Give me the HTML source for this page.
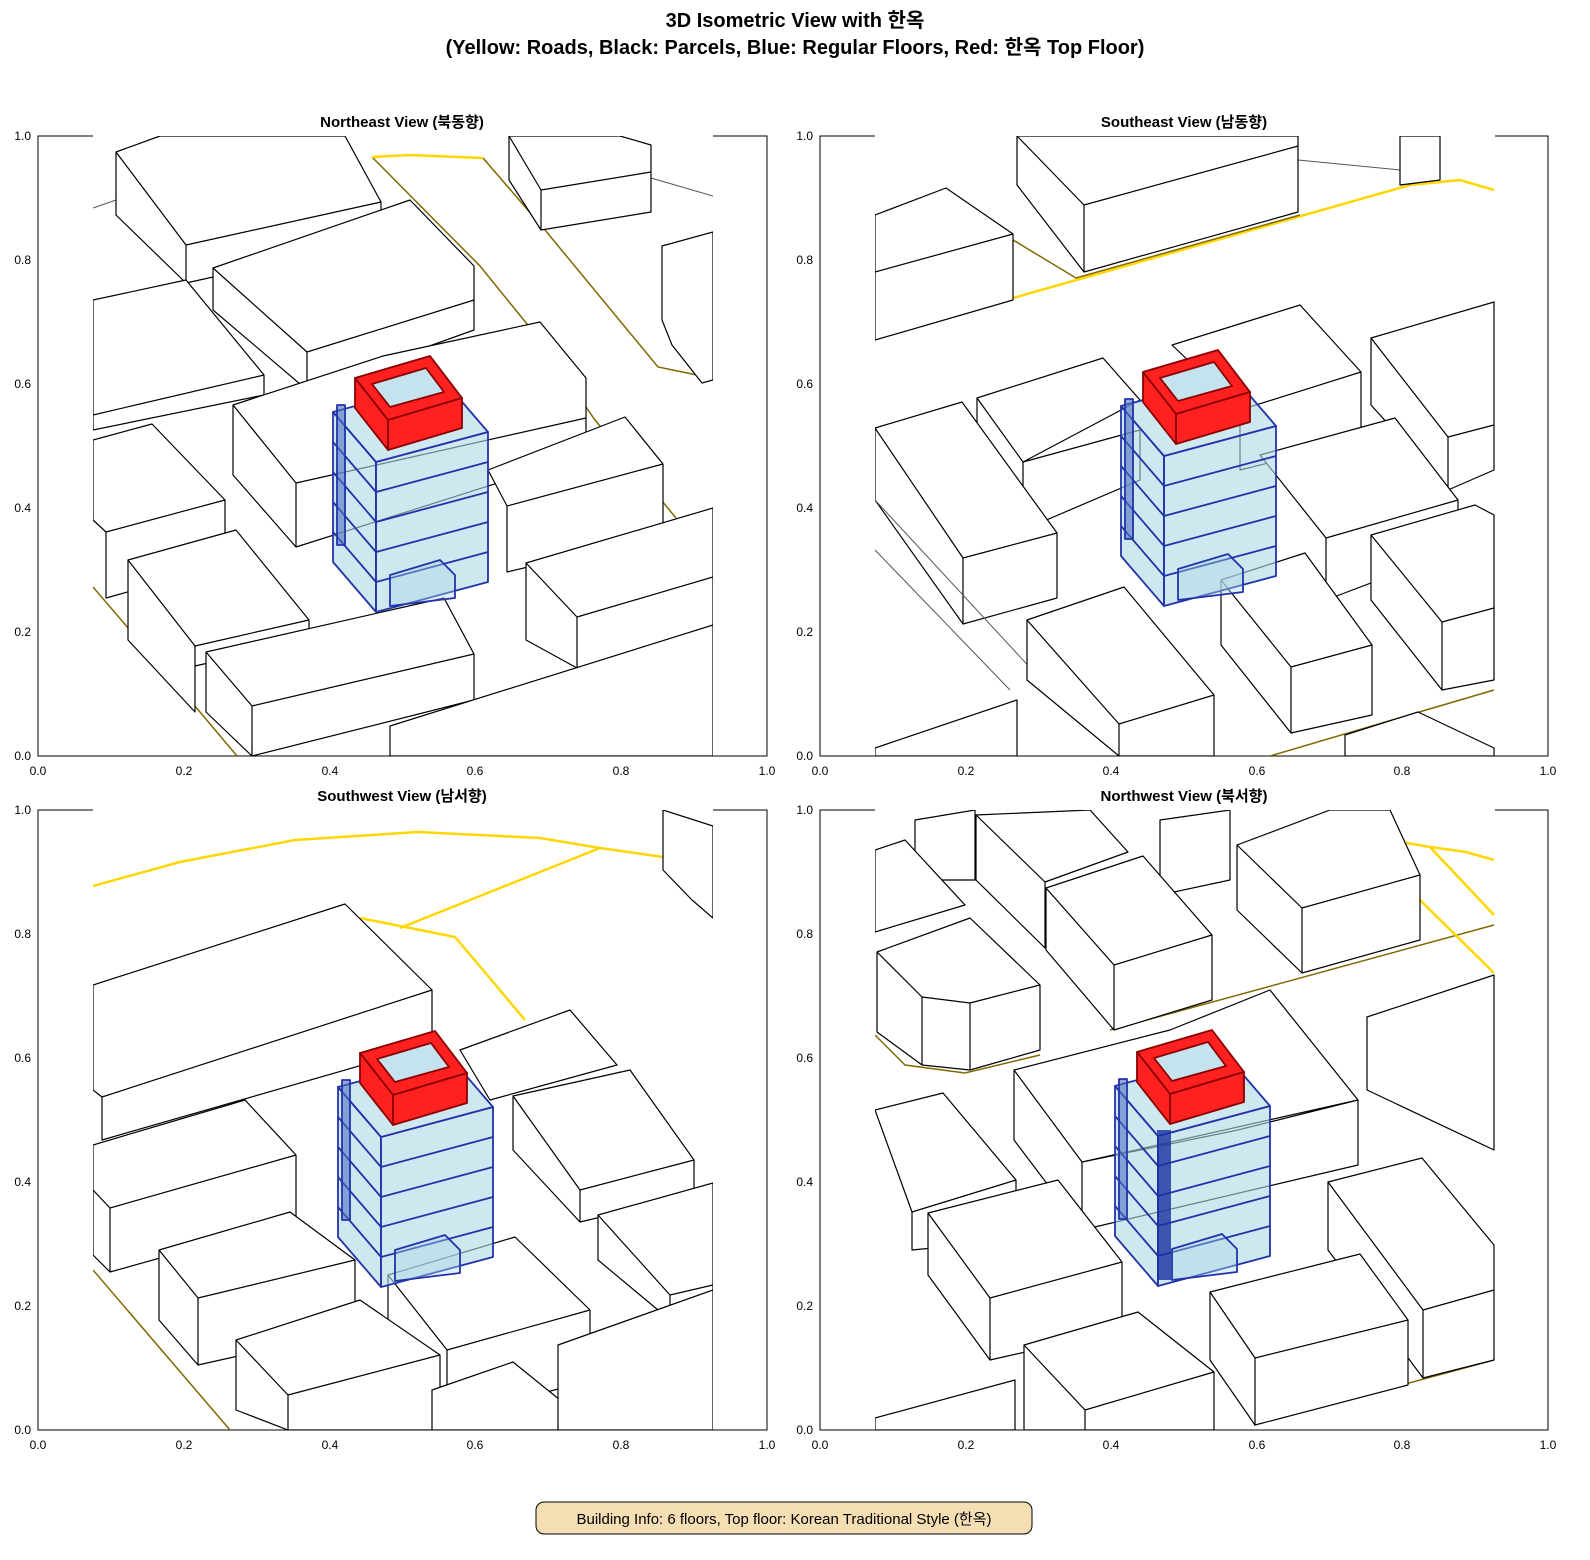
<!DOCTYPE html>
<html><head><meta charset="utf-8"><style>
html,body{margin:0;padding:0;background:#fff;overflow:hidden;width:1590px;height:1560px;}
svg{display:block;font-family:"Liberation Sans","Noto Sans CJK KR",sans-serif;}
.b{fill:#fff;stroke:#000;stroke-width:1.2;stroke-linejoin:round}
.y{fill:none;stroke:#ffd700;stroke-width:2.5}
.yd{fill:none;stroke:#806800;stroke-width:1.5}
.g{fill:none;stroke:#555;stroke-width:1}
.tk{font-size:12px;fill:#000}
</style></head><body>
<svg width="1590" height="1560" viewBox="0 0 1590 1560" xmlns="http://www.w3.org/2000/svg">
<defs>
<g id="bb">
 <g fill="#add8e6" fill-opacity="0.6" stroke="#2233aa" stroke-width="1.8" stroke-linejoin="round">
  <polygon points="333,412 376,462 376,612 333,562"/>
  <polygon points="376,462 488,432 488,582 376,612"/>
  <polygon points="376,462 488,432 445,382 333,412"/>
  <polyline fill="none" points="333,442 376,492 488,462"/>
  <polyline fill="none" points="333,472 376,522 488,492"/>
  <polyline fill="none" points="333,502 376,552 488,522"/>
  <polyline fill="none" points="333,532 376,582 488,552"/>
  <polygon points="390,575 440,560 455,575 455,598 390,606" fill-opacity="0.4"/>
  <rect x="337" y="405" width="8" height="140" fill="#5070c0" fill-opacity="0.6"/>
 </g>
 <g stroke="#8b0000" stroke-width="1.8" stroke-linejoin="round">
  <polygon points="355,378 430,356 462,398 388,420" fill="#ff2020"/>
  <polygon points="372,384 426,368 444,392 390,407" fill="#c5e3ee"/>
  <polygon points="388,420 462,398 462,428 388,450" fill="#ff2020"/>
  <polygon points="355,378 388,420 388,450 355,408" fill="#ff2020"/>
 </g>
</g>
<clipPath id="c1"><rect x="93" y="136" width="620" height="620"/></clipPath>
<clipPath id="c2"><rect x="875" y="136" width="620" height="620"/></clipPath>
<clipPath id="c3"><rect x="93" y="810" width="620" height="620"/></clipPath>
<clipPath id="c4"><rect x="875" y="810" width="620" height="620"/></clipPath>
</defs>
<text x="795" y="27" text-anchor="middle" font-size="20" font-weight="bold">3D Isometric View with 한옥</text>
<text x="795" y="54" text-anchor="middle" font-size="20" font-weight="bold">(Yellow: Roads, Black: Parcels, Blue: Regular Floors, Red: 한옥 Top Floor)</text>

<!-- Axes frames -->
<g fill="none" stroke="#000" stroke-width="1">
<rect x="38" y="136" width="729" height="620"/>
<rect x="820" y="136" width="728" height="620"/>
<rect x="38" y="810" width="729" height="620"/>
<rect x="820" y="810" width="728" height="620"/>
</g>
<g fill="#fff">
<rect x="93" y="134" width="620" height="4"/><rect x="875" y="134" width="620" height="4"/>
<rect x="93" y="808" width="620" height="4"/><rect x="875" y="808" width="620" height="4"/>
</g>

<!-- Panel 1 NE -->
<text x="402" y="127" text-anchor="middle" font-size="15" font-weight="bold">Northeast View (북동향)</text>
<g clip-path="url(#c1)">
<polyline class="yd" points="372,157 480,266 540,340 595,420 676,518"/>
<polyline class="yd" points="483,158 545,230 658,367 697,375"/>
<polyline class="y" points="372,157 410,155 483,158"/>
<polyline class="yd" points="93,587 200,712 237,756"/>
<polyline class="g" points="93,208 116,200"/><polyline class="g" points="651,178 713,196"/>
<path class="b" d="M116,152 160,136 345,136 381,202 186,245Z M186,245 381,202 381,240 186,283Z M116,152 186,245 186,283 116,215Z"/>
<path class="b" d="M509,136 620,136 651,145 651,172 541,190Z M541,190 651,172 651,212 541,230Z M509,136 541,190 541,230 509,180Z"/>
<path class="b" d="M662,246 713,232 713,380 702,383 672,345 662,320Z"/>
<path class="b" d="M213,268 410,200 474,266 474,300 307,352Z M307,352 474,300 474,330 307,390Z M213,268 307,352 307,390 213,310Z"/>
<path class="b" d="M93,300 186,280 264,375 93,415Z M93,415 264,375 264,395 93,430Z"/>
<path class="b" d="M233,405 383,356 540,322 586,378 586,418 296,483Z M296,483 586,418 586,455 296,547Z M233,405 296,483 296,547 233,475Z"/>
<path class="b" d="M488,470 625,417 663,464 507,506Z M507,506 663,464 663,535 507,572Z"/>
<path class="b" d="M93,440 152,424 225,500 106,532 93,520Z M106,532 225,500 225,565 106,598Z"/>
<path class="b" d="M128,560 236,530 309,620 195,646Z M195,646 309,620 309,640 195,666Z M128,560 195,646 195,712 128,640Z"/>
<path class="b" d="M206,652 444,598 474,654 252,706Z M252,706 474,654 474,700 252,756Z M206,652 252,706 252,756 206,712Z"/>
<path class="b" d="M526,563 713,508 713,577 577,617Z M577,617 713,577 713,640 577,668Z M526,563 577,617 577,668 526,640Z"/>
<path class="b" d="M390,726 713,625 713,756 390,756Z"/>
<use href="#bb"/>
</g>

<!-- Panel 2 SE -->
<text x="1184" y="127" text-anchor="middle" font-size="15" font-weight="bold">Southeast View (남동향)</text>
<g clip-path="url(#c2)">
<polyline class="y" points="1013,298 1410,185 1460,180 1494,190"/>
<polyline class="yd" points="1013,240 1076,278 1300,215"/>
<polyline class="yd" points="1270,756 1494,690"/>
<polyline class="g" points="1298,160 1400,170 1410,185"/>
<path class="b" d="M1017,136 1298,136 1298,146 1084,205Z M1084,205 1298,146 1298,212 1084,272Z M1017,136 1084,205 1084,272 1017,185Z"/>
<path class="b" d="M1400,136 1440,136 1440,180 1400,185Z"/>
<path class="b" d="M875,215 946,188 1013,234 875,272Z M875,272 1013,234 1013,300 875,340Z"/>
<path class="b" d="M977,398 1103,358 1140,400 1023,462Z M1023,462 1140,430 1140,480 1023,530Z M977,398 1023,462 1023,520 977,455Z"/>
<path class="b" d="M1172,345 1300,305 1361,372 1240,410Z M1240,410 1361,372 1361,440 1240,470Z"/>
<path class="b" d="M1371,338 1494,302 1494,425 1448,437Z M1448,437 1494,425 1494,470 1448,490Z M1371,338 1448,437 1448,490 1371,405Z"/>
<path class="b" d="M875,428 962,402 1057,533 963,558Z M963,558 1057,533 1057,598 963,624Z M875,428 963,558 963,624 875,500Z"/>
<path class="b" d="M1260,455 1395,418 1458,500 1326,538Z M1326,538 1458,500 1458,550 1326,600Z"/>
<path class="b" d="M1371,535 1475,505 1494,515 1494,608 1442,622Z M1442,622 1494,608 1494,680 1442,690Z M1371,535 1442,622 1442,690 1371,600Z"/>
<polyline class="g" points="875,500 1060,700"/><polyline class="g" points="875,550 1010,690"/>
<path class="b" d="M1027,620 1124,587 1214,695 1119,724Z M1119,724 1214,695 1214,756 1119,756Z M1027,620 1119,724 1119,756 1027,680Z"/>
<path class="b" d="M1221,580 1305,553 1372,645 1291,667Z M1291,667 1372,645 1372,715 1291,733Z M1221,580 1291,667 1291,733 1221,645Z"/>
<path class="b" d="M875,748 1017,700 1017,756 875,756Z"/>
<path class="b" d="M1345,735 1418,712 1494,748 1494,756 1345,756Z"/>
<use href="#bb" x="788" y="-6"/>
</g>

<!-- Panel 3 SW -->
<text x="402" y="801" text-anchor="middle" font-size="15" font-weight="bold">Southwest View (남서향)</text>
<g clip-path="url(#c3)">
<polyline class="y" points="93,886 180,862 295,840 418,832 540,838 600,848 663,857"/>
<polyline class="y" points="400,928 600,848"/>
<polyline class="y" points="360,918 455,937 483,970 525,1020"/>
<polyline class="yd" points="93,1270 230,1430"/>
<path class="b" d="M93,985 345,904 432,990 102,1097 93,1090Z M102,1097 432,990 432,1045 102,1140Z"/>
<path class="b" d="M663,810 713,826 713,918 692,900 663,870Z"/>
<path class="b" d="M460,1050 570,1010 617,1065 490,1100Z"/>
<path class="b" d="M513,1096 630,1070 694,1160 580,1190Z M580,1190 694,1160 694,1195 580,1222Z M513,1096 580,1190 580,1222 513,1150Z"/>
<path class="b" d="M93,1145 245,1100 296,1155 110,1208 93,1190Z M110,1208 296,1155 296,1220 110,1272Z M93,1190 110,1208 110,1272 93,1255Z"/>
<path class="b" d="M598,1215 713,1183 713,1285 670,1295Z M670,1295 713,1285 713,1320 670,1330Z M598,1215 670,1295 670,1320 598,1260Z"/>
<path class="b" d="M159,1250 290,1212 355,1260 198,1298Z M198,1298 355,1260 355,1330 198,1365Z M159,1250 198,1298 198,1365 159,1320Z"/>
<path class="b" d="M388,1275 515,1237 590,1310 447,1350Z M447,1350 590,1310 590,1380 447,1420Z M388,1275 447,1350 447,1420 388,1340Z"/>
<path class="b" d="M236,1340 360,1300 440,1355 288,1395Z M288,1395 440,1355 440,1430 288,1430Z M236,1340 288,1395 288,1430 236,1410Z"/>
<path class="b" d="M432,1390 513,1362 560,1400 560,1430 432,1430Z"/>
<path class="b" d="M558,1345 713,1290 713,1430 558,1430Z"/>
<use href="#bb" x="5" y="675"/>
</g>

<!-- Panel 4 NW -->
<text x="1184" y="801" text-anchor="middle" font-size="15" font-weight="bold">Northwest View (북서향)</text>
<g clip-path="url(#c4)">
<polyline class="yd" points="1110,1030 1494,925"/>
<polyline class="yd" points="875,1035 905,1065 965,1073 1040,1055"/>
<polyline class="y" points="1390,840 1430,847 1466,852 1494,860"/>
<polyline class="y" points="1420,900 1494,973"/>
<polyline class="y" points="1430,847 1494,915"/>
<polyline class="yd" points="1254,1425 1494,1360"/>
<path class="b" d="M915,820 975,810 975,880 915,880Z"/>
<path class="b" d="M875,850 905,840 965,905 875,932Z"/>
<path class="b" d="M976,815 1090,810 1128,852 1045,882Z M976,815 1045,882 1045,948 976,880Z"/>
<path class="b" d="M1160,820 1230,810 1230,880 1160,895Z"/>
<path class="b" d="M1046,888 1143,856 1212,935 1114,965Z M1114,965 1212,935 1212,1000 1114,1030Z M1046,888 1114,965 1114,1030 1046,950Z"/>
<path class="b" d="M1237,845 1330,810 1390,810 1420,875 1302,908Z M1302,908 1420,875 1420,940 1302,973Z M1237,845 1302,908 1302,973 1237,910Z"/>
<path class="b" d="M877,952 970,918 1040,985 970,1003 922,997Z M922,997 970,1003 970,1070 922,1065Z M970,1003 1040,985 1040,1050 970,1070Z M877,952 922,997 922,1065 877,1032Z"/>
<path class="b" d="M1014,1070 1170,1030 1270,990 1358,1100 1238,1130 1082,1162Z M1082,1162 1358,1100 1358,1165 1082,1230Z M1014,1070 1082,1162 1082,1230 1014,1140Z"/>
<path class="b" d="M1367,1017 1494,975 1494,1150 1367,1090Z"/>
<path class="b" d="M875,1110 943,1093 1016,1180 912,1212Z M912,1212 1016,1180 1016,1240 912,1250Z"/>
<path class="b" d="M928,1213 1058,1180 1122,1262 990,1298Z M990,1298 1122,1262 1122,1330 990,1360Z M928,1213 990,1298 990,1360 928,1275Z"/>
<path class="b" d="M1328,1182 1422,1158 1494,1245 1494,1290 1423,1310Z M1423,1310 1494,1290 1494,1360 1423,1378Z M1328,1182 1423,1310 1423,1378 1328,1250Z"/>
<path class="b" d="M1210,1292 1360,1254 1408,1320 1255,1358Z M1255,1358 1408,1320 1408,1385 1255,1425Z M1210,1292 1255,1358 1255,1425 1210,1360Z"/>
<path class="b" d="M1024,1345 1138,1312 1214,1372 1085,1410Z M1085,1410 1214,1372 1214,1430 1085,1430Z M1024,1345 1085,1410 1085,1430 1024,1430Z"/>
<path class="b" d="M875,1418 1015,1380 1015,1430 875,1430Z"/>
<use href="#bb" x="782" y="674"/>
<rect x="1157" y="1130" width="14" height="150" fill="#1a2fa0" fill-opacity="0.8"/>
</g>

<g class="tk" text-anchor="middle">
<text x="38" y="775">0.0</text><text x="184" y="775">0.2</text><text x="330" y="775">0.4</text><text x="475" y="775">0.6</text><text x="621" y="775">0.8</text><text x="767" y="775">1.0</text>
<text x="820" y="775">0.0</text><text x="966" y="775">0.2</text><text x="1111" y="775">0.4</text><text x="1257" y="775">0.6</text><text x="1402" y="775">0.8</text><text x="1548" y="775">1.0</text>
<text x="38" y="1449">0.0</text><text x="184" y="1449">0.2</text><text x="330" y="1449">0.4</text><text x="475" y="1449">0.6</text><text x="621" y="1449">0.8</text><text x="767" y="1449">1.0</text>
<text x="820" y="1449">0.0</text><text x="966" y="1449">0.2</text><text x="1111" y="1449">0.4</text><text x="1257" y="1449">0.6</text><text x="1402" y="1449">0.8</text><text x="1548" y="1449">1.0</text>
</g>
<g class="tk" text-anchor="end">
<text x="31" y="760">0.0</text><text x="31" y="636">0.2</text><text x="31" y="512">0.4</text><text x="31" y="388">0.6</text><text x="31" y="264">0.8</text><text x="31" y="140">1.0</text>
<text x="813" y="760">0.0</text><text x="813" y="636">0.2</text><text x="813" y="512">0.4</text><text x="813" y="388">0.6</text><text x="813" y="264">0.8</text><text x="813" y="140">1.0</text>
<text x="31" y="1434">0.0</text><text x="31" y="1310">0.2</text><text x="31" y="1186">0.4</text><text x="31" y="1062">0.6</text><text x="31" y="938">0.8</text><text x="31" y="814">1.0</text>
<text x="813" y="1434">0.0</text><text x="813" y="1310">0.2</text><text x="813" y="1186">0.4</text><text x="813" y="1062">0.6</text><text x="813" y="938">0.8</text><text x="813" y="814">1.0</text>
</g>
<rect x="536" y="1502" width="496" height="32" rx="8" fill="#f5deb3" stroke="#000" stroke-width="1"/>
<text x="784" y="1524" text-anchor="middle" font-size="15">Building Info: 6 floors, Top floor: Korean Traditional Style (한옥)</text>
</svg>
</body></html>
